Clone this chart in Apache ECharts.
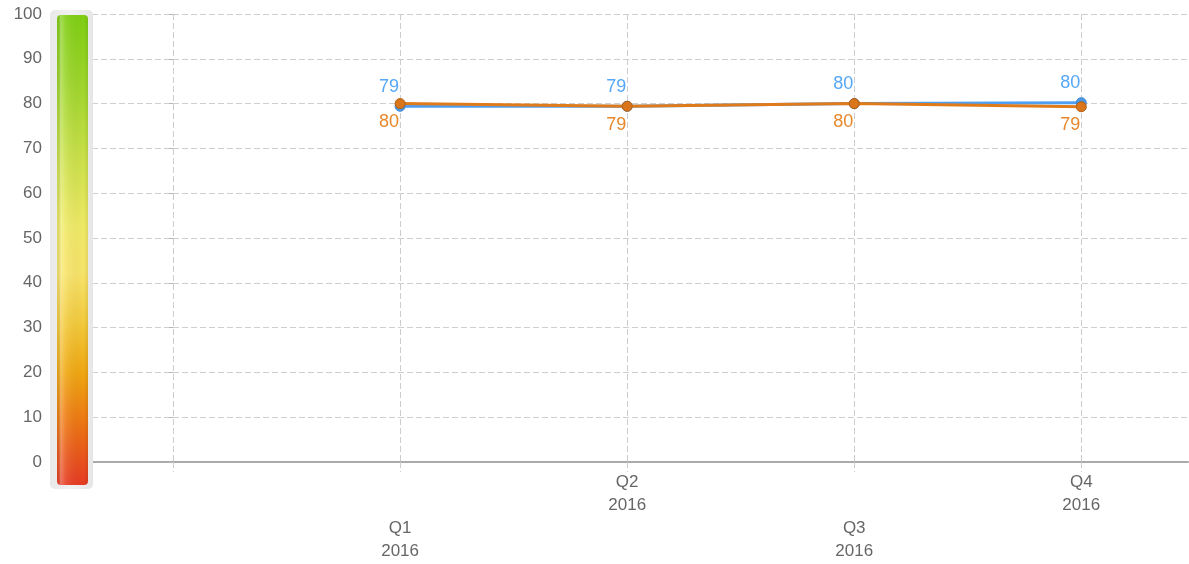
<!DOCTYPE html>
<html>
<head>
<meta charset="utf-8">
<script src="https://cdn.jsdelivr.net/npm/echarts@6/dist/echarts.min.js"></script>
<style>
  html, body { margin: 0; padding: 0; background: #ffffff; }
  #chart { width: 1189px; height: 564px; }
</style>
</head>
<body>
<div id="chart"></div>
<script>
// ---- data ----
var quarters = ['Q1', 'Q2', 'Q3', 'Q4'];
var years = ['2016', '2016', '2016', '2016'];
var quarterPos = [1, 2, 3, 4];
var blueValues = [79.4, 79.4, 80.0, 80.2];
var orangeValues = [80.0, 79.4, 80.0, 79.3];
var yTicks = [0, 10, 20, 30, 40, 50, 60, 70, 80, 90, 100];

function pairs(vals) {
  return vals.map(function (v, i) { return [quarterPos[i], v]; });
}

var chart = echarts.init(document.getElementById('chart'), null, { renderer: 'canvas' });
var FONT = 'Liberation Sans, Arial, sans-serif';

var option = {
  animation: false,
  backgroundColor: '#ffffff',
  grid: { left: 92, right: 1, top: 14, bottom: 102, containLabel: false },
  xAxis: {
    type: 'value',
    min: -0.357,
    max: 4.47,
    axisLine: { show: true, onZero: false, lineStyle: { color: '#aaaaaa', width: 2 } },
    axisTick: {
      show: true, length: 10, inside: false,
      customValues: [0, 1, 2, 3, 4],
      lineStyle: { color: '#c9cdd2', type: [6, 3], width: 1 }
    },
    splitLine: {
      show: true,
      lineStyle: { color: '#c9cdd2', type: [6, 3], width: 1 }
    },
    axisLabel: {
      customValues: quarterPos,
      margin: 9,
      color: '#666666',
      fontSize: 17,
      fontFamily: FONT,
      lineHeight: 23,
      formatter: function (v) {
        var i = quarterPos.indexOf(Math.round(v));
        if (i < 0) return '';
        var t = quarters[i] + '\n' + years[i];
        return (i % 2 === 0) ? '\n\n' + t : t;
      }
    }
  },
  yAxis: {
    type: 'value',
    min: 0,
    max: 100,
    interval: 10,
    offset: 42,
    axisLine: { show: false },
    axisTick: { show: true, length: 4, lineStyle: { color: '#b5b5b5' } },
    axisLabel: {
      margin: 8,
      color: '#666666',
      fontSize: 17,
      fontFamily: FONT,
      customValues: yTicks
    },
    splitLine: { show: true, lineStyle: { color: '#cfcfcf', type: [6, 3], width: 1 } }
  },
  graphic: [
    {
      type: 'rect', z: 100,
      shape: { x: 50, y: 10, width: 43, height: 479, r: 5 },
      style: {
        fill: new echarts.graphic.LinearGradient(0, 0, 1, 0, [
          { offset: 0, color: '#e9e9e9' },
          { offset: 0.5, color: '#f1f1f1' },
          { offset: 1, color: '#e6e6e6' }
        ])
      }
    },
    {
      type: 'rect', z: 101,
      shape: { x: 57, y: 15, width: 31, height: 470, r: 4 },
      style: {
        fill: new echarts.graphic.LinearGradient(0, 0, 0, 1, [
          { offset: 0.00, color: '#7fcf12' },
          { offset: 0.15, color: '#9fd62c' },
          { offset: 0.32, color: '#cfe24c' },
          { offset: 0.45, color: '#f0ea66' },
          { offset: 0.55, color: '#f8e46a' },
          { offset: 0.66, color: '#f3c93a' },
          { offset: 0.76, color: '#f0a812' },
          { offset: 0.86, color: '#ee7a12' },
          { offset: 1.00, color: '#e63a22' }
        ])
      }
    },
    {
      type: 'rect', z: 102,
      shape: { x: 57, y: 15, width: 31, height: 470, r: 4 },
      style: {
        fill: new echarts.graphic.LinearGradient(0, 0, 1, 0, [
          { offset: 0.00, color: 'rgba(0,0,0,0.04)' },
          { offset: 0.12, color: 'rgba(255,255,255,0.30)' },
          { offset: 0.28, color: 'rgba(255,255,255,0.10)' },
          { offset: 0.85, color: 'rgba(0,0,0,0.00)' },
          { offset: 1.00, color: 'rgba(0,0,0,0.08)' }
        ])
      }
    }
  ],
  series: [
    {
      name: 'A',
      type: 'line',
      data: pairs(blueValues),
      z: 2,
      symbol: 'circle',
      symbolSize: 10,
      lineStyle: { color: '#4f9ff0', width: 3 },
      itemStyle: { color: '#4a98e6', borderColor: '#3f86cf', borderWidth: 1 },
      label: {
        show: true, position: 'top', align: 'right', distance: 5, offset: [-1, 0],
        color: '#56a7f7', fontSize: 18, fontFamily: FONT,
        formatter: function (p) { return Math.round(p.value[1]); }
      }
    },
    {
      name: 'B',
      type: 'line',
      data: pairs(orangeValues),
      z: 3,
      symbol: 'circle',
      symbolSize: 10,
      lineStyle: { color: '#e07b1c', width: 3 },
      itemStyle: { color: '#d9761c', borderColor: '#b35f12', borderWidth: 1 },
      label: {
        show: true, position: 'bottom', align: 'right', distance: 4, offset: [-1, 0],
        color: '#e8872a', fontSize: 18, fontFamily: FONT,
        formatter: function (p) { return Math.round(p.value[1]); }
      }
    }
  ]
};
chart.setOption(option);
</script>
</body>
</html>
